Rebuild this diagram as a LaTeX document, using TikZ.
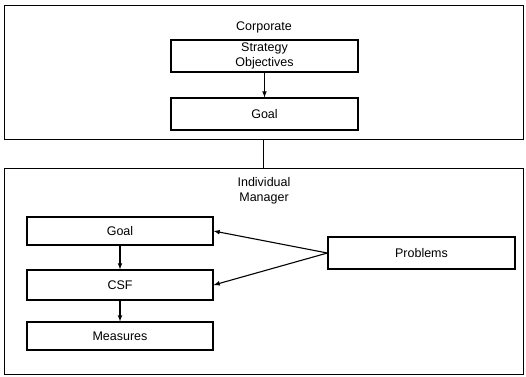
\documentclass[tikz,border=0pt]{standalone}
\usepackage{fontspec}
\setmainfont{Liberation Sans}
\usetikzlibrary{arrows}
\newcommand{\txt}{\fontsize{12.5}{15}\selectfont}

\begin{document}
\begin{tikzpicture}[x=1pt,y=-1pt]
    \useasboundingbox (0,0) rectangle (526,376);
    \tikzset{frame/.style={draw,line width=0.8pt,inner sep=0pt},
      box/.style={draw,line width=1.2pt,minimum width=187pt,minimum height=30pt,
        inner sep=1pt,align=center,font=\txt},
      title/.style={align=center,font=\txt,inner sep=0pt}}
    % outer frames
    \node[frame,minimum width=519pt,minimum height=134pt] (corp) at (263.5,72) {};
    \node[frame,minimum width=519pt,minimum height=206pt] (indiv) at (263.5,271) {};
    \node[title] (corptitle) at (264,27) {Corporate};
    \node[title] (indivtitle) at (264,191) {Individual\\Manager};
    % corporate level
    \node[box,minimum height=32pt] (strat) at (264.5,56) {Strategy\\Objectives};
    \node[box,minimum height=32pt] (cgoal) at (264.5,114) {Goal};
    % manager level
    \node[box,minimum width=186pt,minimum height=28pt] (igoal) at (120,231) {Goal};
    \node[box,minimum width=186pt,minimum height=30pt] (csf) at (120,285) {CSF};
    \node[box,minimum width=186pt,minimum height=28pt] (meas) at (120,336) {Measures};
    \node[box,minimum width=187pt,minimum height=32pt] (probs) at (421.5,253) {Problems};
    \draw[line width=0.8pt] (corp.south) -- (indiv.north);
    \path[->,line width=1.1pt,>=latex]
      (strat) edge (cgoal)
      (igoal) edge (csf)
      (csf) edge (meas)
      (probs.west) edge (igoal.east)
      (probs.west) edge (csf.east);
  \end{tikzpicture}
\end{document}
